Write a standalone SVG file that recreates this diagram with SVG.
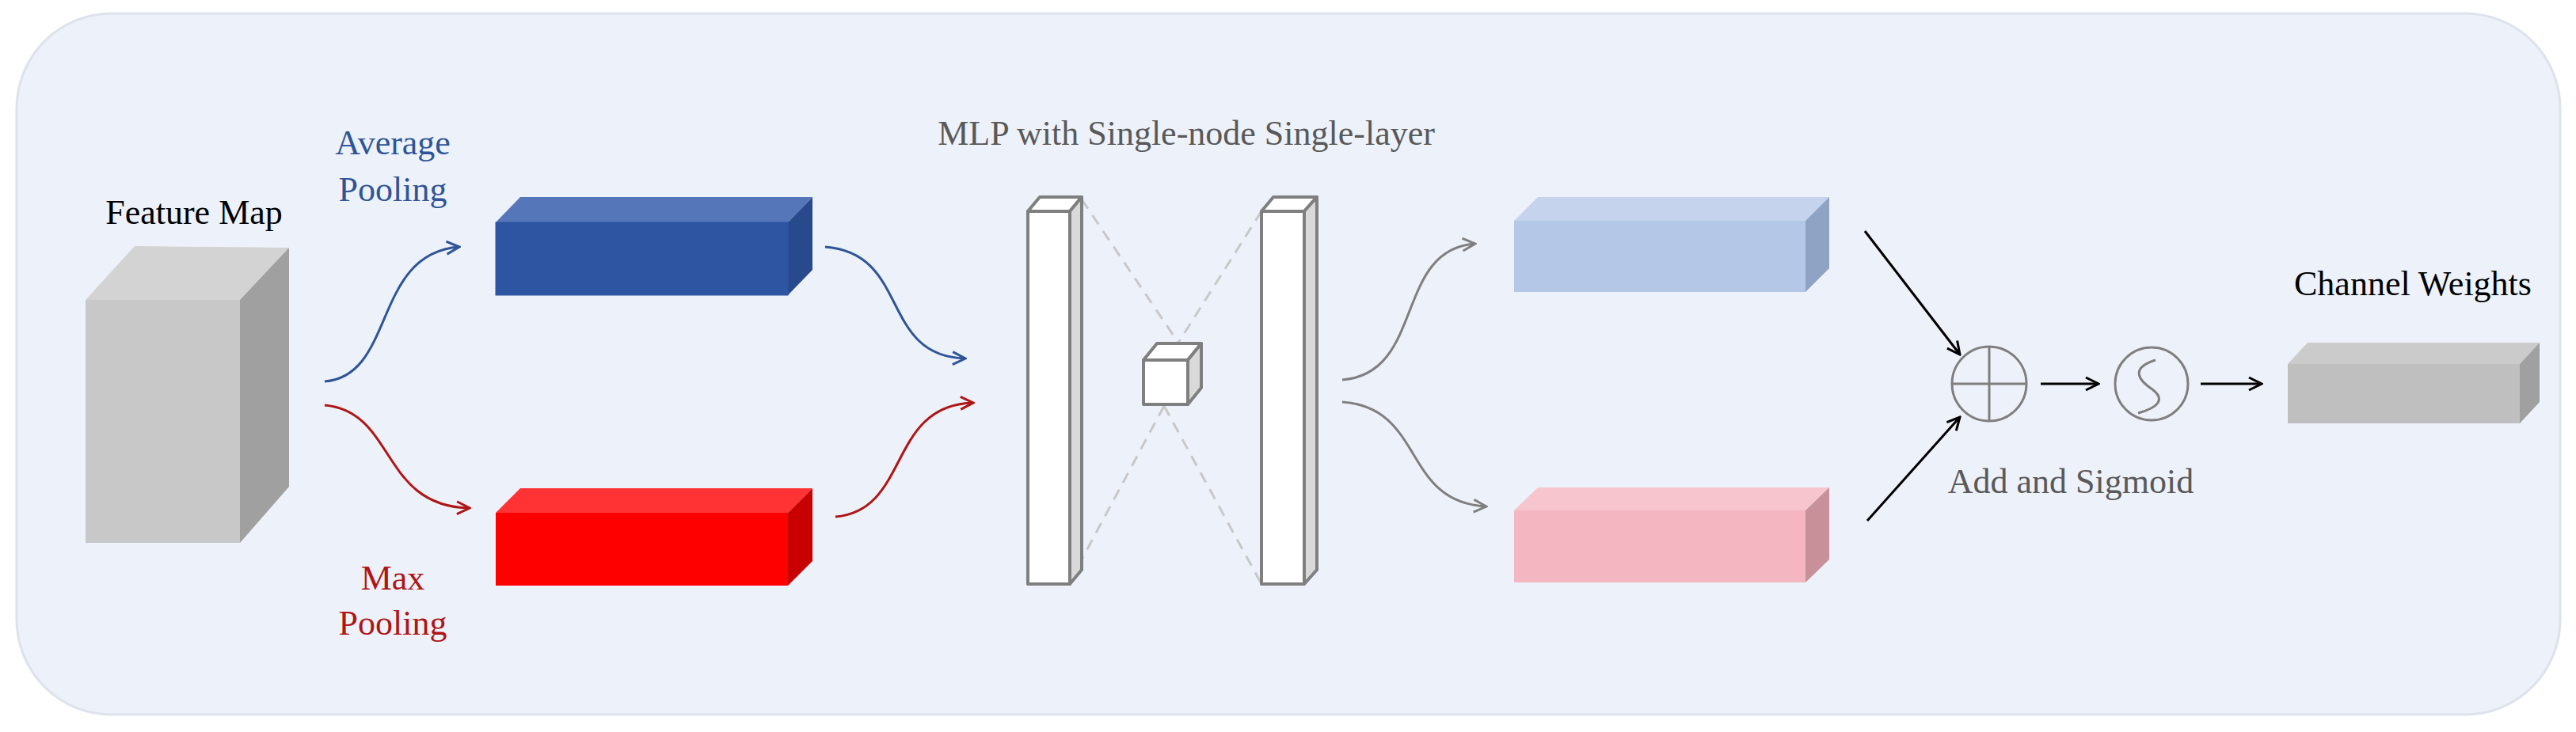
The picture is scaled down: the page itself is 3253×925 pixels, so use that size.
<svg xmlns="http://www.w3.org/2000/svg" width="3253" height="925" viewBox="0 0 3253 925">
<defs>
<style>
text{font-family:"Liberation Serif","Times New Roman",serif;font-size:44px;text-anchor:middle}
.g{fill:#595959}.k{fill:#000}.b{fill:#2F5597}.r{fill:#B01515}
.slab{stroke:#7f7f7f;stroke-width:4;stroke-linejoin:round}
.dash{stroke:#c8c8c8;stroke-width:3;stroke-dasharray:14 10;fill:none}
.c{fill:none;stroke-width:3}
</style>
<marker id="ab" viewBox="0 0 20 20" refX="18" refY="10" markerWidth="20" markerHeight="20" markerUnits="userSpaceOnUse" orient="auto"><path d="M2 2L18 10L2 18" fill="none" stroke="#2F5597" stroke-width="3"/></marker>
<marker id="ar" viewBox="0 0 20 20" refX="18" refY="10" markerWidth="20" markerHeight="20" markerUnits="userSpaceOnUse" orient="auto"><path d="M2 2L18 10L2 18" fill="none" stroke="#B01515" stroke-width="3"/></marker>
<marker id="ag" viewBox="0 0 20 20" refX="18" refY="10" markerWidth="20" markerHeight="20" markerUnits="userSpaceOnUse" orient="auto"><path d="M2 2L18 10L2 18" fill="none" stroke="#7f7f7f" stroke-width="3"/></marker>
<marker id="ak" viewBox="0 0 20 20" refX="18" refY="10" markerWidth="20" markerHeight="20" markerUnits="userSpaceOnUse" orient="auto"><path d="M2 2L18 10L2 18" fill="none" stroke="#000" stroke-width="3"/></marker>
</defs>
<rect x="21" y="17" width="3212" height="886" rx="120" fill="#EDF1FA" stroke="#dde2ec" stroke-width="3"/>

<g id="feature-map">
<polygon points="108,379 170,311 365,313 303,379" fill="#D3D3D3"/>
<polygon points="303,379 365,313 365,615 303,686" fill="#A0A0A0"/>
<rect x="108" y="379" width="195" height="307" fill="#C8C8C8"/>
<text x="245" y="283" class="k">Feature Map</text>
</g>

<g id="avg-pool">
<polygon points="626,281 657,249 1026,249 995,281" fill="#5576B8"/>
<polygon points="995,281 1026,249 1026,341 995,373" fill="#284A8C"/>
<rect x="626" y="281" width="369" height="92" fill="#2E55A2" stroke="#2E55A2"/>
<text x="496" y="195" class="b">Average</text>
<text x="496" y="254" class="b">Pooling</text>
</g>

<g id="max-pool">
<polygon points="626,648 657,617 1026,617 995,648" fill="#FF3333"/>
<polygon points="995,648 1026,617 1026,709 995,740" fill="#C80000"/>
<rect x="626" y="648" width="369" height="92" fill="#FF0000"/>
<text x="496" y="745" class="r">Max</text>
<text x="496" y="802" class="r">Pooling</text>
</g>

<g id="mlp">
<text x="1498" y="183" class="g">MLP with Single-node Single-layer</text>
<line x1="1366" y1="252" x2="1488" y2="433" class="dash"/>
<line x1="1593" y1="267" x2="1488" y2="433" class="dash"/>
<line x1="1470" y1="513" x2="1366" y2="707" class="dash"/>
<line x1="1470" y1="513" x2="1593" y2="738" class="dash"/>
<g class="slab">
<polygon points="1298,267 1313,249 1366,249 1351,267" fill="#fff"/>
<polygon points="1351,267 1366,249 1366,720 1351,738" fill="#d9d9d9"/>
<rect x="1298" y="267" width="53" height="471" fill="#fff"/>
<polygon points="1593,267 1608,249 1663,249 1647,267" fill="#fff"/>
<polygon points="1647,267 1663,249 1663,720 1647,738" fill="#d9d9d9"/>
<rect x="1593" y="267" width="54" height="471" fill="#fff"/>
<polygon points="1444,455 1461,434 1517,434 1500,455" fill="#fff"/>
<polygon points="1500,455 1517,434 1517,490 1500,511" fill="#d9d9d9"/>
<rect x="1444" y="455" width="56" height="56" fill="#fff"/>
</g>
</g>

<g id="avg-out">
<polygon points="1912,279 1942,249 2310,249 2280,279" fill="#C5D3EC"/>
<polygon points="2280,279 2310,249 2310,339 2280,369" fill="#8FA3C4"/>
<rect x="1912" y="279" width="368" height="90" fill="#B4C7E7"/>
</g>
<g id="max-out">
<polygon points="1912,645 1942,616 2310,616 2280,645" fill="#F7C5CD"/>
<polygon points="2280,645 2310,616 2310,707 2280,736" fill="#C8919A"/>
<rect x="1912" y="645" width="368" height="91" fill="#F4B6C0"/>
</g>

<g id="add">
<circle cx="2512" cy="485" r="47" fill="none" stroke="#7f7f7f" stroke-width="3"/>
<line x1="2465" y1="485" x2="2559" y2="485" stroke="#7f7f7f" stroke-width="3"/>
<line x1="2512" y1="438" x2="2512" y2="532" stroke="#7f7f7f" stroke-width="3"/>
<text x="2615" y="623" class="g">Add and Sigmoid</text>
</g>
<g id="sigmoid">
<circle cx="2717" cy="485" r="46" fill="none" stroke="#7f7f7f" stroke-width="3"/>
<path d="M2722,455 C2690,465 2700,480 2718,492 C2735,505 2725,515 2700,522" fill="none" stroke="#7f7f7f" stroke-width="3"/>
</g>

<g id="channel-weights">
<polygon points="2889,460 2914,433 3207,433 3182,460" fill="#CBCBCB"/>
<polygon points="3182,460 3207,433 3207,508 3182,535" fill="#A0A0A0"/>
<rect x="2889" y="460" width="293" height="75" fill="#BFBFBF"/>
<text x="3047" y="373" class="k">Channel Weights</text>
</g>

<g id="connectors">
<path d="M410,482 C500,475 470,320 580,312" class="c" stroke="#2F5597" marker-end="url(#ab)"/>
<path d="M410,512 C500,520 480,640 593,642" class="c" stroke="#B01515" marker-end="url(#ar)"/>
<path d="M1042,312 C1150,320 1110,450 1219,453" class="c" stroke="#2F5597" marker-end="url(#ab)"/>
<path d="M1055,653 C1150,645 1120,512 1229,509" class="c" stroke="#B01515" marker-end="url(#ar)"/>
<path d="M1695,480 C1800,472 1760,315 1863,308" class="c" stroke="#7f7f7f" marker-end="url(#ag)"/>
<path d="M1695,508 C1800,515 1770,635 1877,640" class="c" stroke="#7f7f7f" marker-end="url(#ag)"/>
<line x1="2355" y1="292" x2="2475" y2="448" class="c" stroke="#000" marker-end="url(#ak)"/>
<line x1="2358" y1="658" x2="2475" y2="527" class="c" stroke="#000" marker-end="url(#ak)"/>
<line x1="2577" y1="485" x2="2650" y2="485" class="c" stroke="#000" marker-end="url(#ak)"/>
<line x1="2779" y1="485" x2="2856" y2="485" class="c" stroke="#000" marker-end="url(#ak)"/>
</g>
</svg>
